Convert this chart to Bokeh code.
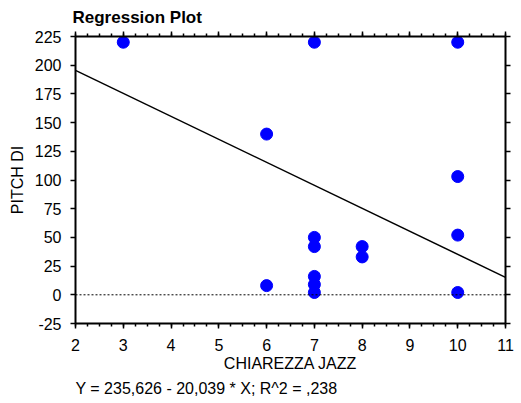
from bokeh.plotting import figure
from bokeh.models import LinearAxis, Range1d, Span, Title, FixedTicker
from bokeh.embed import file_html
from bokeh.resources import INLINE

# Observations: clarity of jazz (x) versus pitch (y)
chiarezza = [3, 7, 10, 6, 10, 10, 10, 7, 7, 7, 7, 7, 8, 8, 6]
pitch = [220, 220, 220, 140, 103, 52, 2, 50, 42, 16, 9, 2, 42, 33, 8]

# Fitted regression line  Y = a + b * X
intercept = 235.626
slope = -20.039
r_squared = ",238"

x_ticks = list(range(2, 12))
y_ticks = list(range(-25, 226, 25))
x_lo, x_hi = 2, 11
y_lo, y_hi = -25, 225

FONT = "Liberation Sans"
SIZE = "16px"

p = figure(width=521, height=403, output_backend="svg", toolbar_location=None,
           x_range=Range1d(x_lo, x_hi), y_range=Range1d(y_lo, y_hi),
           min_border_left=75, min_border_right=16, min_border_top=36,
           min_border_bottom=80, x_axis_label="CHIAREZZA JAZZ", y_axis_label="PITCH DI")
p.outline_line_color = None
p.xgrid.visible = False
p.ygrid.visible = False
p.background_fill_color = "white"
p.border_fill_color = "white"

x_minor = [x_lo + i * 0.25 for i in range(int((x_hi - x_lo) * 4) + 1)]


def style_axis(ax, ticks, minor, labels=True):
    ax.ticker = FixedTicker(ticks=ticks, minor_ticks=minor)
    ax.axis_line_color = "black"
    ax.axis_line_width = 2
    ax.major_tick_line_color = "black"
    ax.major_tick_line_width = 1.5
    ax.major_tick_out = 5
    ax.major_tick_in = 0
    ax.minor_tick_line_color = "black" if minor else None
    ax.minor_tick_line_width = 1.5
    ax.minor_tick_out = 3
    ax.minor_tick_in = 0
    if labels:
        ax.major_label_text_font = FONT
        ax.major_label_text_font_size = SIZE
        ax.major_label_text_color = "black"
        ax.major_label_overrides = {t: str(t) for t in ticks}
    else:
        ax.major_label_text_font_size = "0px"
        ax.major_label_text_color = None
        ax.major_label_standoff = 0


style_axis(p.xaxis[0], x_ticks, x_minor)
style_axis(p.yaxis[0], y_ticks, [])
p.xaxis[0].major_label_standoff = 10
p.yaxis[0].major_label_standoff = 9
for ax in (p.xaxis[0], p.yaxis[0]):
    ax.axis_label_text_font = FONT
    ax.axis_label_text_font_size = SIZE
    ax.axis_label_text_font_style = "normal"
    ax.axis_label_text_color = "black"
p.xaxis[0].axis_label_standoff = 1
p.yaxis[0].axis_label_standoff = 6

top = LinearAxis()
style_axis(top, x_ticks, x_minor, labels=False)
p.add_layout(top, "above")
right = LinearAxis()
style_axis(right, y_ticks, [], labels=False)
p.add_layout(right, "right")

# Dotted zero reference
p.add_layout(Span(location=0, dimension="width", line_color="black",
                  line_width=1, line_dash="2 2"))

# Regression line across the x range
xs = [x_lo, x_hi]
ys = [intercept + slope * x for x in xs]
p.line(xs, ys, line_color="black", line_width=1.5)

p.scatter(chiarezza, pitch, size=12, fill_color="#0000FF", line_color="#0000FF")

p.title.text = "Regression Plot"
p.title.align = "left"
p.title.offset = -3
p.title.text_font = FONT
p.title.text_font_size = "17px"
p.title.text_font_style = "bold"
p.title.text_color = "black"
p.title.standoff = 9

eq = f"Y = {intercept:.3f} - {abs(slope):.3f} * X; R^2 = {r_squared}".replace(".", ",")
p.add_layout(Title(text=eq, align="left", text_font=FONT, text_font_size=SIZE,
                   text_font_style="normal", text_color="black", standoff=7), "below")

open("out.html", "w").write(file_html(p, INLINE))
